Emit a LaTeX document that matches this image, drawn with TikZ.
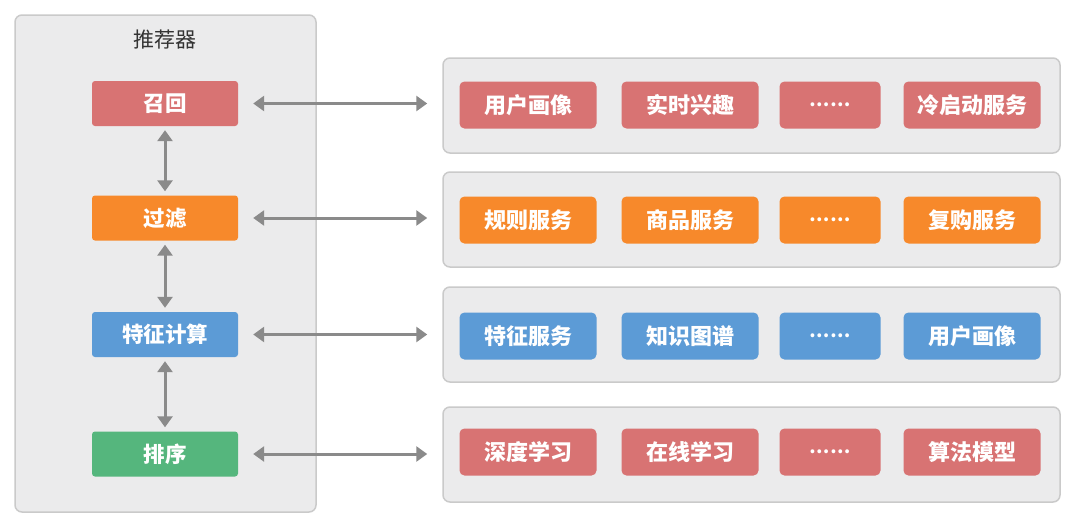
\documentclass[tikz,border=0pt]{standalone}
\usepackage{fontspec}
\setmainfont{Noto Sans CJK SC}
\usetikzlibrary{arrows.meta}
\definecolor{cred}{HTML}{D87373}
\definecolor{corange}{HTML}{F7892B}
\definecolor{cblue}{HTML}{5C9BD6}
\definecolor{cgreen}{HTML}{55B67D}
\definecolor{panelfill}{HTML}{EBEBEC}
\definecolor{panelline}{HTML}{CACACA}
\definecolor{arrowgray}{HTML}{8A8A8A}
\definecolor{titlegray}{HTML}{333333}
\tikzset{
  panel/.style={draw=panelline, line width=1.5pt, fill=panelfill, rounded corners=7pt, inner sep=0pt},
  lbox/.style={rounded corners=3pt, minimum width=146pt, minimum height=45pt, inner sep=0pt,
    text=white, font=\fontsize{21.5}{24}\selectfont\bfseries},
  rbox/.style={rounded corners=5pt, minimum width=137pt, minimum height=47pt, inner sep=0pt,
    text=white, font=\fontsize{22}{24}\selectfont\bfseries},
  dbox/.style={rbox, minimum width=101pt, font=\fontsize{18}{22}\selectfont\bfseries},
  dblarrow/.style={draw=arrowgray, line width=3pt, {Triangle[length=11pt,width=15pt]}-{Triangle[length=11pt,width=15pt]}},
}
\begin{document}
\begin{tikzpicture}[x=1pt,y=-1pt]
\useasboundingbox (0,0) rectangle (1080,525);
\fill[white] (0,0) rectangle (1080,525);
% left panel
\node[panel, minimum width=301pt, minimum height=497pt] (left) at (165.5,263.5) {};
\node[text=titlegray, font=\fontsize{21}{24}\selectfont] (title) at (165,40) {推荐器};
% left boxes
\node[lbox, fill=cred]    (l1) at (165,103.5) {召回};
\node[lbox, fill=corange] (l2) at (165,218)   {过滤};
\node[lbox, fill=cblue]   (l3) at (165,334.5) {特征计算};
\node[lbox, fill=cgreen]  (l4) at (165,454)   {排序};
% right panels
\node[panel, minimum width=617pt, minimum height=95pt] (p1) at (751.5,105.5) {};
\node[panel, minimum width=617pt, minimum height=95pt] (p2) at (751.5,219.5) {};
\node[panel, minimum width=617pt, minimum height=95pt] (p3) at (751.5,334.5) {};
\node[panel, minimum width=617pt, minimum height=95pt] (p4) at (751.5,454.5) {};
% row 1
\node[rbox, fill=cred] (a1) at (528,105) {用户画像};
\node[rbox, fill=cred] (a2) at (690,105) {实时兴趣};
\node[dbox, fill=cred] (a3) at (830,105) {……};
\node[rbox, fill=cred] (a4) at (972,105) {冷启动服务};
% row 2
\node[rbox, fill=corange] (b1) at (528,220) {规则服务};
\node[rbox, fill=corange] (b2) at (690,220) {商品服务};
\node[dbox, fill=corange] (b3) at (830,220) {……};
\node[rbox, fill=corange] (b4) at (972,220) {复购服务};
% row 3
\node[rbox, fill=cblue] (c1) at (528,336) {特征服务};
\node[rbox, fill=cblue] (c2) at (690,336) {知识图谱};
\node[dbox, fill=cblue] (c3) at (830,336) {……};
\node[rbox, fill=cblue] (c4) at (972,336) {用户画像};
% row 4
\node[rbox, fill=cred] (d1) at (528,452) {深度学习};
\node[rbox, fill=cred] (d2) at (690,452) {在线学习};
\node[dbox, fill=cred] (d3) at (830,452) {……};
\node[rbox, fill=cred] (d4) at (972,452) {算法模型};
% vertical arrows
\draw[dblarrow, shorten <=4pt, shorten >=4pt] (l1.south) -- (l2.north);
\draw[dblarrow, shorten <=4pt, shorten >=4pt] (l2.south) -- (l3.north);
\draw[dblarrow, shorten <=4pt, shorten >=4pt] (l3.south) -- (l4.north);
% horizontal arrows
\draw[dblarrow, shorten <=15pt, shorten >=15pt] (l1.east) -- (l1.east -| p1.west);
\draw[dblarrow, shorten <=15pt, shorten >=15pt] (l2.east) -- (l2.east -| p2.west);
\draw[dblarrow, shorten <=15pt, shorten >=15pt] (l3.east) -- (l3.east -| p3.west);
\draw[dblarrow, shorten <=15pt, shorten >=15pt] (l4.east) -- (l4.east -| p4.west);
\end{tikzpicture}
\end{document}
